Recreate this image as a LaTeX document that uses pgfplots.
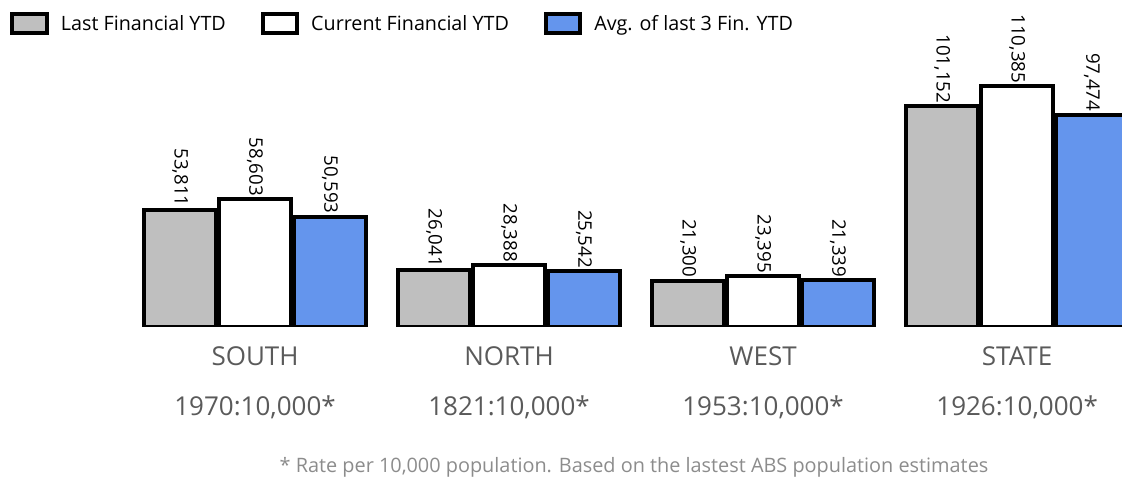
\documentclass[border=0pt]{standalone}
\usepackage{fontspec}
\setmainfont{Open Sans}
\usepackage{pgfplots}
\pgfplotsset{compat=1.18}
\definecolor{bargray}{RGB}{191,191,191}
\definecolor{barblue}{RGB}{100,149,237}
\definecolor{catgray}{RGB}{90,90,90}
\definecolor{notegray}{RGB}{140,140,140}
\begin{document}
\begin{tikzpicture}
\begin{axis}[
  at={(0,0)}, anchor=south west,
  scale only axis,
  width=841.5pt, height=245.25pt,
  xmin=-1.004, xmax=3.413,
  ymin=0, ymax=150000,
  ybar=1.8pt,
  bar width=0.285,
  clip=true,
  hide y axis,
  axis x line*=bottom,
  x axis line style={draw=none},
  xtick={0,1,2,3},
  xtick style={draw=none},
  major tick length=0pt,
  xticklabels={{SOUTH\\[13.5pt]1970:10,000*},{NORTH\\[13.5pt]1821:10,000*},{WEST\\[13.5pt]1953:10,000*},{STATE\\[13.5pt]1926:10,000*}},
  xticklabel style={align=center, anchor=north, inner sep=0pt, yshift=-14.5pt, text=catgray, font=\fontsize{19.5}{24}\selectfont},
  nodes near coords,
  /pgf/number format/.cd, fixed, precision=0, 1000 sep={,}, assume math mode=true,
  /pgfplots/.cd,
  every node near coord/.append style={rotate=-90, anchor=east, inner sep=0pt, xshift=-1pt, text=black, font=\fontsize{14}{16}\selectfont},
  legend columns=-1,
  legend cell align=left,
  legend style={at={(rel axis cs:0,1)}, anchor=north west, xshift=7.5pt, yshift=-9pt, draw=none, fill=none, inner sep=0pt, nodes={inner sep=0pt}, font=\fontsize{14.8}{17}\selectfont},
  legend image code/.code={\draw[#1, line width=3pt] (0pt,-7pt) rectangle (26pt,7pt);},
  /tikz/every odd column/.append style={column sep=9pt},
  /tikz/every even column/.append style={column sep=26pt},
]
\addplot[fill=bargray, draw=black, line width=3pt] coordinates {(0,53811) (1,26041) (2,21300) (3,101152)};
\addplot[fill=white, draw=black, line width=3pt] coordinates {(0,58603) (1,28388) (2,23395) (3,110385)};
\addplot[fill=barblue, draw=black, line width=3pt] coordinates {(0,50593) (1,25542) (2,21339) (3,97474)};
\legend{Last Financial YTD, Current Financial YTD, Avg. of last 3 Fin. YTD}
\end{axis}
\node[anchor=base, text=notegray, font=\fontsize{14.9}{17}\selectfont, inner sep=0pt] at (475.5pt,-109.5pt) {* Rate per 10,000 population. Based on the lastest ABS population estimates};
\pgfresetboundingbox
\path (0pt,-112.5pt) rectangle (841.5pt,245.25pt);
\end{tikzpicture}
\end{document}
